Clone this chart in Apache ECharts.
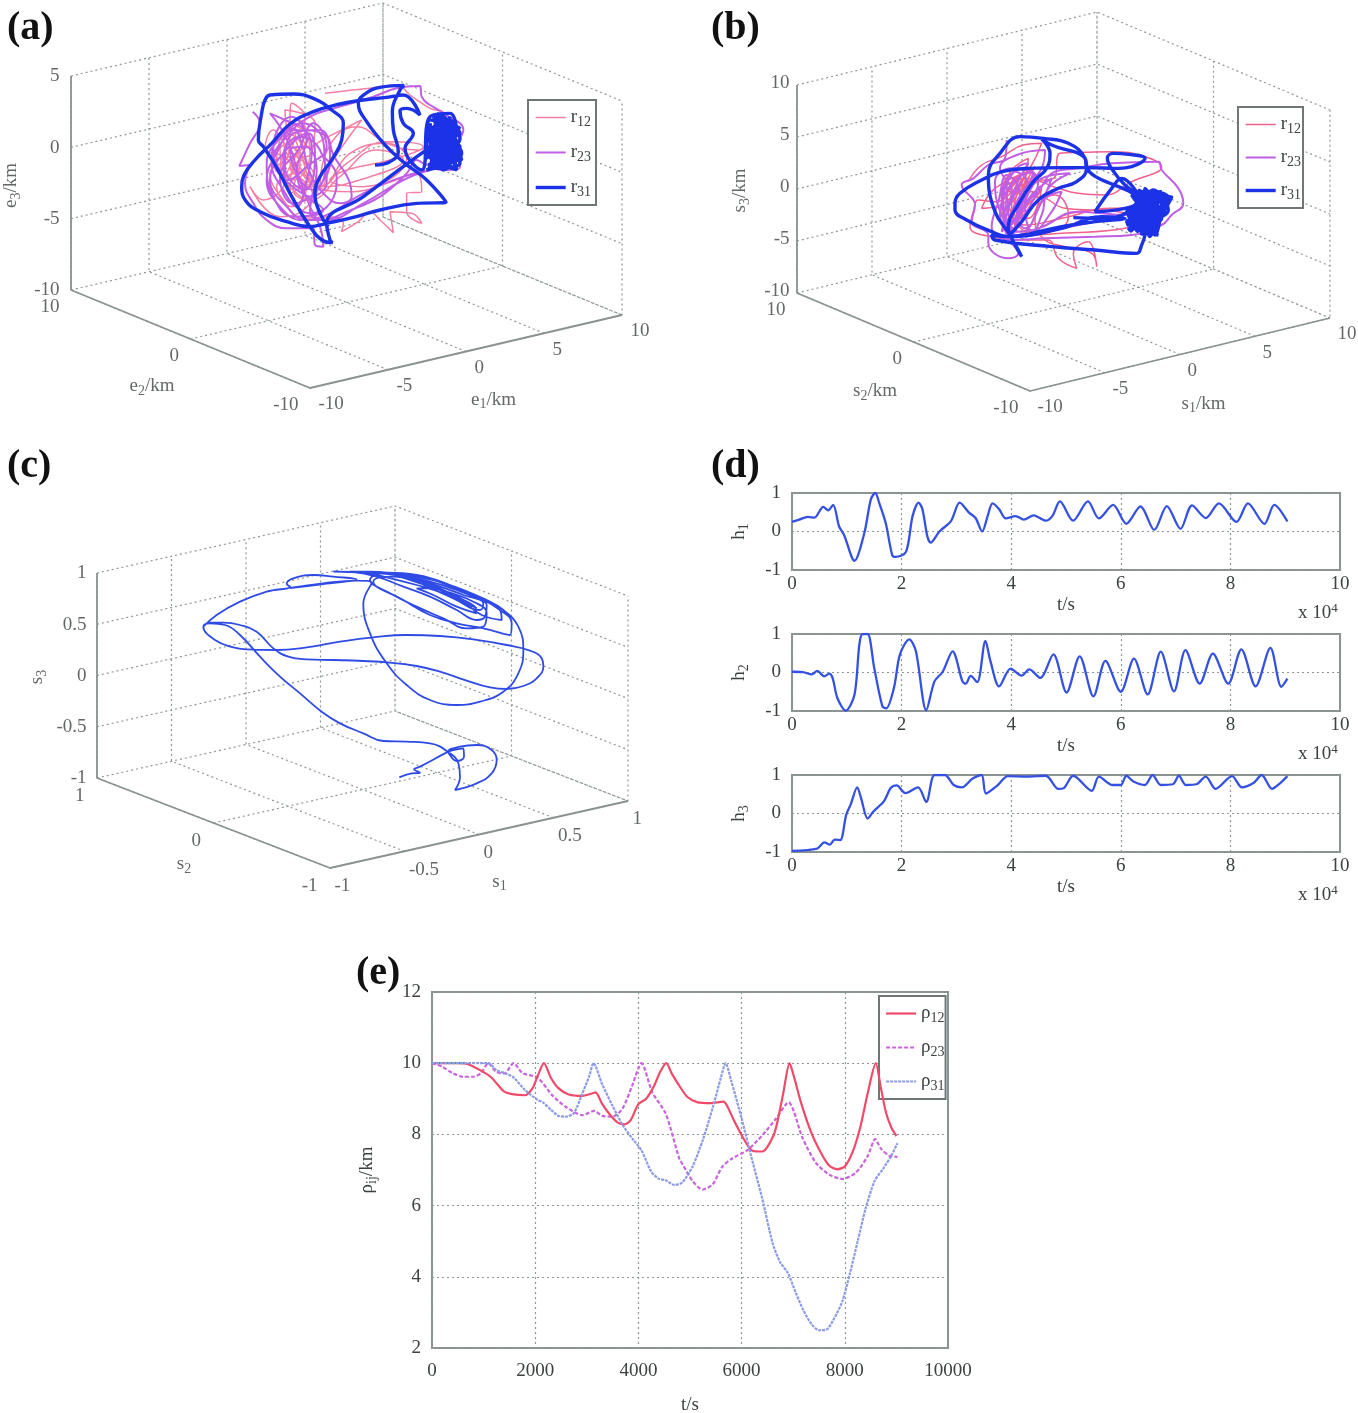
<!DOCTYPE html>
<html>
<head>
<meta charset="utf-8">
<style>html,body{margin:0;padding:0;background:#fff}#c{width:1358px;height:1413px;filter:blur(0.55px)}</style>
<script src="https://cdn.jsdelivr.net/npm/echarts@6/dist/echarts.min.js"></script>
</head>
<body>
<div id="c"></div>
<script>
// ---------- values ----------
// (d) attitude components: [t (x10^4 s), value]
var h1Values=[[0,.25],[.13,.31],[.29,.38],[.41,.36],[.57,.64],[.66,.55],[.75,.69],[.86,.13],[.95,-.09],[1.14,-.76],[1.32,-.04],[1.44,.84],[1.52,1],[1.59,.75],[1.71,.22],[1.83,-.62],[1.89,-.66],[2.08,-.53],[2.2,.4],[2.31,.75],[2.38,.58],[2.47,-.13],[2.53,-.29],[2.69,0],[2.9,.27],[3.06,.75],[3.23,.49],[3.35,.35],[3.47,0],[3.57,.4],[3.66,.73],[3.78,.58],[3.9,.34],[4.08,.4],[4.23,.31],[4.41,.42],[4.63,.28],[4.75,.4],[4.89,.78],[5.13,.28],[5.4,.78],[5.6,.34],[5.86,.69],[6.1,.2],[6.36,.65],[6.61,.04],[6.84,.66],[7.09,.07],[7.3,.68],[7.55,.35],[7.79,.73],[8.11,.25],[8.32,.73],[8.62,.2],[8.8,.69],[9.04,.26]];
var h2Values=[[0,.02],[.2,.01],[.36,-.05],[.46,.04],[.59,-.1],[.68,-.03],[.74,-.14],[.83,-.67],[.98,-.99],[1.14,-.58],[1.23,.74],[1.29,1],[1.38,1],[1.5,.12],[1.65,-.88],[1.72,-.93],[1.86,-.4],[1.97,.47],[2.14,.86],[2.26,.56],[2.45,-.98],[2.6,-.23],[2.75,.02],[2.93,.55],[3.11,-.23],[3.17,-.29],[3.26,-.09],[3.38,-.25],[3.53,.82],[3.62,.3],[3.78,-.36],[3.99,.1],[4.19,-.08],[4.33,.08],[4.53,-.14],[4.77,.47],[5.01,-.52],[5.25,.42],[5.5,-.62],[5.72,.3],[6,-.5],[6.24,.36],[6.49,-.57],[6.73,.54],[6.97,-.49],[7.18,.58],[7.44,-.29],[7.68,.49],[7.96,-.29],[8.2,.6],[8.46,-.36],[8.73,.64],[8.93,-.37],[9.04,-.16]];
var h3Values=[[0,-.97],[.46,-.91],[.59,-.75],[.69,-.81],[.78,-.68],[.88,-.69],[.99,-.03],[1.07,.23],[1.19,.68],[1.26,.4],[1.38,-.13],[1.49,.06],[1.68,.32],[1.8,.66],[1.91,.73],[2.07,.53],[2.3,.68],[2.45,.3],[2.6,1],[2.79,1],[2.95,.74],[3.1,.68],[3.29,.9],[3.46,1],[3.54,.52],[3.75,.73],[3.94,.97],[4.28,.96],[4.63,.98],[4.86,.64],[4.96,.66],[5.13,.98],[5.47,.59],[5.6,.96],[5.85,.74],[6,.74],[6.1,.98],[6.23,.83],[6.44,.74],[6.58,1],[6.73,.74],[6.95,.76],[7.06,.98],[7.19,.74],[7.38,.76],[7.55,.96],[7.73,.64],[8.03,.97],[8.21,.68],[8.42,.79],[8.57,1],[8.76,.64],[8.91,.79],[9.04,.97]];
// (e) distances: [t (s), km]
var rho12=[[0,10],[500,10],[700,9.97],[1000,9.75],[1150,9.6],[1300,9.35],[1400,9.2],[1550,9.13],[1800,9.1],[1950,9.3],[2050,9.65],[2170,10],[2300,9.6],[2450,9.3],[2650,9.12],[2900,9.08],[3100,9.15],[3170,9.18],[3300,8.85],[3450,8.55],[3600,8.33],[3730,8.28],[3850,8.4],[4000,8.85],[4150,9],[4300,9.35],[4420,9.75],[4540,10],[4650,9.7],[4800,9.35],[4950,9.05],[5150,8.9],[5400,8.88],[5650,8.92],[5720,8.8],[5850,8.4],[6050,7.85],[6200,7.55],[6400,7.52],[6500,7.65],[6650,8.1],[6800,9.1],[6930,10],[7000,9.7],[7150,8.9],[7350,8.05],[7550,7.45],[7700,7.12],[7850,7.02],[8000,7.1],[8150,7.5],[8300,8.2],[8450,9.2],[8600,10],[8700,9.3],[8800,8.6],[8900,8.2],[9000,7.95]];
var rho23=[[0,10],[200,9.9],[400,9.72],[600,9.62],[800,9.62],[950,9.72],[1090,10],[1240,9.76],[1400,9.71],[1580,10],[1755,9.72],[2045,9.6],[2335,9.09],[2595,8.77],[2915,8.54],[3140,8.66],[3300,8.52],[3500,8.5],[3690,8.72],[3880,9.37],[4060,10],[4270,9.18],[4530,8.58],[4790,7.33],[4860,7.15],[5050,6.69],[5245,6.45],[5440,6.6],[5630,7.1],[5825,7.33],[6115,7.56],[6405,7.98],[6665,8.44],[6910,8.9],[7180,7.9],[7440,7.2],[7700,6.87],[7955,6.75],[8210,6.92],[8440,7.38],[8590,7.87],[8700,7.6],[8860,7.4],[9020,7.37]];
var rho31=[[0,10],[1090,10],[1250,9.8],[1400,9.73],[1580,9.6],[1800,9.25],[2045,8.97],[2150,8.9],[2300,8.7],[2450,8.52],[2600,8.5],[2750,8.6],[2900,9.1],[3050,9.65],[3130,10],[3300,9.4],[3500,8.8],[3700,8.25],[3900,7.85],[4060,7.55],[4250,6.95],[4400,6.75],[4520,6.72],[4700,6.58],[4850,6.65],[5050,7.1],[5250,7.85],[5450,8.8],[5600,9.6],[5690,10],[5800,9.5],[6000,8.45],[6200,7.3],[6400,6.2],[6600,4.95],[6750,4.4],[6900,4.1],[7050,3.55],[7200,3.05],[7350,2.68],[7500,2.5],[7650,2.52],[7800,2.85],[7950,3.3],[8100,4.1],[8250,5],[8400,5.9],[8580,6.7],[8750,7.05],[8900,7.4],[9020,7.75]];
// (a) projected trajectories in view units of the plot plane
var aR12=[[285,40],[350,32],[420,25],[500,15],[540,45],[600,85],[640,100],[630,150],[560,210],[470,190],[380,140],[300,195],[270,320],[370,335],[470,310],[560,280],[575,335],[530,340],[530,395],[575,430],[545,400],[480,395],[490,458],[450,420],[420,395],[385,425],[335,455],[340,430],[300,410],[220,415],[160,360],[120,280],[175,225],[185,70],[225,110],[200,175],[150,210],[175,290],[210,240],[270,320],[310,240],[395,120],[285,175],[235,200],[205,150],[180,205],[130,150],[105,205],[170,235],[215,310],[265,320],[205,400],[150,410],[60,320],[100,360],[165,300],[130,250],[180,230],[230,230],[255,130],[165,90],[180,180],[240,290],[180,340],[195,250],[270,320],[350,250],[470,185],[580,200],[480,240],[350,270],[300,300],[400,320],[530,235],[470,190],[360,220],[270,320],[200,260],[160,180],[205,120],[240,220],[190,300],[140,240],[170,160],[215,200],[180,260],[230,320],[185,380],[140,320],[205,280],[265,320],[240,260],[180,200],[150,270],[200,340],[255,370],[215,230],[175,130],[235,170],[190,240],[160,310],[270,320],[420,290],[520,240],[440,210],[330,290],[240,360],[190,330],[210,250],[175,210]];
var aR23=[[68,95],[90,130],[60,190],[28,258],[60,255],[45,310],[70,370],[110,420],[170,445],[250,445],[255,495],[280,500],[270,440],[240,380],[210,300],[180,200],[150,140],[120,100],[165,120],[225,150],[245,210],[230,300],[200,380],[160,330],[125,250],[145,170],[200,150],[285,165],[310,225],[360,310],[365,350],[330,370],[285,345],[240,280],[215,190],[190,145],[140,220],[110,300],[150,380],[215,420],[275,420],[350,395],[450,350],[530,280],[560,240],[580,250],[640,270],[690,260],[680,200],[700,150],[640,100],[575,50],[570,18],[500,25],[430,50],[330,80],[240,110],[170,170],[130,240],[165,300],[230,350],[280,390],[190,410],[130,350],[110,250],[150,175],[215,130],[280,185],[285,270],[250,330],[205,290],[180,210],[225,200],[260,270],[240,395],[290,420],[400,370],[520,300],[600,270],[520,290],[400,340],[300,400],[230,420],[170,380],[120,300],[160,220],[235,160],[255,230],[225,330],[165,260],[190,160],[270,150],[300,230],[260,330],[190,370],[150,290],[205,210],[250,130],[290,200],[230,260],[175,300],[130,200],[185,110],[230,180],[200,270],[240,350],[290,310],[270,210],[210,170],[160,230],[180,340],[240,400],[300,370],[320,290],[280,230]];
var aR31=[[435,255],[480,245],[505,215],[490,150],[487,95],[510,30],[522,16],[450,22],[405,42],[385,70],[410,125],[470,200],[525,250],[590,300],[648,367],[560,370],[450,390],[370,412],[290,430],[240,440],[170,425],[90,395],[47,362],[35,320],[42,285],[75,240],[125,190],[180,132],[250,95],[330,72],[400,60],[470,52],[520,45],[570,105],[530,85],[510,92],[520,130],[550,160],[525,205],[575,270],[600,110],[660,100],[680,150],[640,120],[600,170],[690,200],[620,230],[600,130],[650,240],[695,240],[640,110],[610,210],[680,270],[630,160],[585,240],[670,120],[640,270],[600,180],[690,160],[620,100],[650,200],[590,270],[695,220],[610,140],[675,255],[625,125],[660,230],[600,225],[680,130],[640,190],[615,265],[690,250],[600,150],[655,150],[630,250],[670,180],[610,190],[650,115],[640,230],[680,210],[620,175],[665,265],[590,205],[600,120],[690,175],[595,255],[685,235],[615,115],[640,255],[660,110],[605,245],[675,165],[590,170],[660,255],[625,145],[690,225],[600,200],[665,125],[620,240],[680,190],[610,105],[650,270],[595,230],[670,240],[630,200],[660,170],[615,225],[680,270],[640,150],[600,265],[690,140],[540,245],[400,350],[290,430],[300,480],[308,488],[280,482],[240,440],[180,340],[140,262],[100,200],[85,180],[95,100],[105,60],[120,45],[190,42],[250,55],[305,90],[340,130],[335,180],[305,240],[270,290],[255,340],[270,400],[295,440]];
// (b) projected trajectories
var bR12=[[70,170],[110,120],[170,95],[235,60],[290,55],[260,120],[210,190],[150,230],[100,225],[85,260],[75,305],[140,335],[260,345],[310,345],[340,400],[395,430],[385,385],[430,350],[455,425],[440,385],[360,365],[300,345],[270,290],[280,240],[330,210],[370,270],[360,300],[310,315],[250,320],[200,240],[250,170],[325,160],[345,85],[420,82],[500,80],[600,95],[650,125],[560,170],[480,210],[400,205],[340,190],[240,160],[170,190],[205,130],[250,100],[225,220],[175,300],[215,240],[260,135],[150,190],[110,250],[175,235],[270,150],[215,300],[285,215],[360,250],[520,260],[650,300],[560,250],[400,260],[280,310],[200,335],[350,325],[540,310],[640,260],[500,250],[350,280],[240,300],[190,270],[220,180],[270,125],[230,190],[180,260],[200,170],[245,145],[205,260],[250,280],[290,190],[240,240],[185,220],[215,320],[170,250],[230,150],[190,200],[265,200],[220,290]];
var bR23=[[185,45],[180,100],[130,120],[85,160],[50,180],[90,240],[80,290],[130,330],[130,355],[190,400],[220,385],[190,340],[175,280],[200,200],[165,130],[215,90],[300,75],[290,130],[240,190],[200,260],[185,320],[250,330],[290,270],[310,190],[375,145],[290,160],[230,240],[205,310],[170,220],[215,130],[250,115],[210,190],[180,290],[225,280],[280,200],[330,140],[400,130],[500,115],[640,110],[650,135],[700,190],[715,235],[680,270],[650,300],[560,330],[450,335],[300,340],[200,345],[140,305],[160,230],[185,150],[225,210],[185,300],[230,320],[300,220],[350,200],[320,260],[265,320],[240,240],[270,160],[200,130],[150,170],[170,270],[220,330],[400,300],[540,270],[630,240],[540,270],[400,260],[280,310],[210,320],[165,270],[205,170],[265,140],[235,230],[195,300],[175,230],[210,140],[250,180],[215,270],[240,310],[290,230],[320,160],[260,210],[205,290],[185,190],[235,130],[280,170],[225,260],[170,320],[190,250],[230,170]];
var bR31=[[385,278],[470,280],[550,260],[610,200],[665,215],[625,270],[560,210],[680,215],[600,300],[545,290],[660,250],[580,195],[630,330],[650,230],[545,260],[640,290],[590,240],[670,230],[555,320],[620,210],[635,320],[565,240],[655,270],[600,190],[590,330],[670,210],[550,280],[625,240],[600,280],[645,210],[575,300],[615,310],[640,250],[565,270],[600,220],[650,200],[575,215],[630,300],[600,205],[670,225],[560,300],[640,330],[550,270],[665,240],[585,200],[615,335],[640,215],[560,250],[650,280],[600,310],[575,320],[625,195],[670,255],[545,300],[610,250],[590,270],[640,310],[580,225],[655,225],[620,285],[565,305],[600,235],[630,260],[575,255],[660,260],[605,295],[550,315],[615,225],[600,330],[590,360],[575,385],[450,375],[320,365],[150,345],[140,330],[190,335],[260,325],[350,305],[450,290],[540,280],[470,275],[350,310],[190,335],[140,320],[65,285],[30,255],[30,235],[45,205],[110,165],[170,140],[250,130],[350,128],[430,128],[520,130],[560,125],[600,100],[550,88],[505,85],[487,100],[510,145],[540,180],[580,210],[530,160],[500,190],[450,260],[540,250],[580,230],[425,130],[420,100],[370,55],[295,40],[225,35],[165,85],[130,150],[150,260],[195,330],[210,360],[230,395],[220,375],[200,340],[190,310],[225,230],[265,170],[305,130],[315,85],[290,42],[320,60],[420,100],[425,130],[395,170],[340,190],[280,225],[230,290],[190,335]];
// (c) projected unit-vector trajectory
var cPath=[[628,652],[665,640],[690,638],[672,628],[690,620],[775,575],[790,570],[820,565],[822,590],[800,603],[783,590],[775,575],[810,560],[860,555],[905,570],[920,600],[905,640],[860,670],[795,690],[810,650],[805,610],[780,580],[720,550],[650,545],[580,543],[520,520],[450,490],[395,455],[330,400],[270,350],[210,290],[150,225],[105,195],[60,190],[40,200],[75,240],[130,262],[170,268],[260,270],[350,262],[450,245],[550,232],[650,225],[750,228],[850,238],[950,255],[1020,272],[1055,295],[1060,320],[1040,355],[1000,378],[950,387],[900,382],[830,362],[750,335],[680,318],[600,308],[520,303],[430,300],[350,298],[295,290],[250,265],[200,215],[150,195],[100,188],[60,188],[40,200],[80,165],[150,125],[230,95],[300,80],[290,72],[310,55],[370,45],[430,50],[500,58],[400,72],[300,84],[400,70],[500,62],[545,68],[520,130],[540,220],[590,310],[650,375],[720,420],[800,435],[870,425],[940,395],[985,340],[1000,270],[985,200],[940,150],[890,120],[780,75],[680,50],[560,38],[430,35],[520,38],[620,45],[720,65],[800,90],[860,115],[890,135],[885,170],[860,180],[800,150],[720,110],[640,80],[560,50],[480,35],[540,35],[640,50],[740,85],[820,125],[875,165],[935,180],[930,150],[880,120],[780,75],[680,45],[590,38],[540,60],[600,100],[680,140],[760,175],[830,205],[880,200],[890,160],[850,125],[770,95],[690,70],[610,50],[550,65],[640,120],[720,165],[800,190],[880,205],[960,225],[965,190],[930,150],[860,110],[760,70],[650,42],[540,40],[680,75],[760,100],[840,140],[860,160],[800,140],[730,105],[680,85],[720,85],[800,115],[860,145],[840,130],[760,90],[690,60],[610,42],[720,70],[820,105],[880,130],[870,150],[790,115],[700,75]];
// tick labels
var ticksE1=[-10,-5,0,5,10], ticksE2=[-10,0,10], ticksE3=[-10,-5,0,5];
var ticksS1=[-10,-5,0,5,10], ticksS2=[-10,0,10], ticksS3=[-10,-5,0,5,10];
var ticksU1=[-1,-.5,0,.5,1], ticksU2=[-1,0,1], ticksU3=[-1,-.5,0,.5,1];

// ---------- layout ----------
var SERIF='"Liberation Serif","Times New Roman",serif', TXT='#3c4141', AXC='#8b9392', GRIDC='#8d9895';
var rich={m:{fontFamily:SERIF,fontSize:19,color:TXT,lineHeight:22,verticalAlign:'middle'},
          b:{fontFamily:SERIF,fontSize:14,color:TXT,padding:[9,0,0,0],verticalAlign:'bottom'},
          t:{fontFamily:SERIF,fontSize:13,color:TXT,padding:[0,0,9,0],verticalAlign:'top'}};
function sub(a,b,c){return '{m|'+a+'}{b|'+b+'}'+(c?'{m|'+c+'}':'');}
var plain=function(v){return String(v);};

var panels=[
 {rect:[0,0,680,430],crop:[230,80],L:[71,290],F:[310,388],R:[622,315],H:214,ax:ticksE1,bx:ticksE2,cx:ticksE3,
  aoff:[9,17],boff:[-11,18],coff:[-11,1],names:[sub('e','1','/km'),sub('e','2','/km'),sub('e','3','/km')],noff:[[28,49],[-38,48],[-59,3]]},
 {rect:[690,0,668,430],crop:[945,125],L:[797,293],F:[1030,391],R:[1330,318],H:208,ax:ticksS1,bx:ticksS2,cx:ticksS3,
  aoff:[8,17],boff:[-11,18],coff:[-7,-1],names:[sub('s','1','/km'),sub('s','2','/km'),sub('s','3','/km')],noff:[[24,50],[-38,50],[-56,2]]},
 {rect:[0,440,680,470],crop:[190,560],L:[97,778],F:[330,868],R:[628,801],H:205,ax:ticksU1,bx:ticksU2,cx:ticksU3,
  aoff:[5,19],boff:[-12,19],coff:[-10,1],names:[sub('s','1'),sub('s','2'),sub('s','3')],noff:[[21,48],[-29,42],[-59,2]]}
];
function toView(p,px,py){return [(px-p.crop[0])*3,(py-p.crop[1])*3];}
function project(p,a,b,c){
  var A=p.ax,B=p.bx,C=p.cx;
  var u=(a-A[0])/(A[A.length-1]-A[0]),v=(b-B[0])/(B[B.length-1]-B[0]),w=(c-C[0])/(C[C.length-1]-C[0]);
  return toView(p,p.F[0]+u*(p.R[0]-p.F[0])+v*(p.L[0]-p.F[0]),p.F[1]+u*(p.R[1]-p.F[1])+v*(p.L[1]-p.F[1])-w*p.H);
}

var grids=[],xAxes=[],yAxes=[],series=[],legends=[];
var GAP=[NaN,NaN];
panels.forEach(function(p,i){
  grids.push({left:p.rect[0],top:p.rect[1],width:p.rect[2],height:p.rect[3],show:false,outerBoundsMode:'none'});
  var v0=toView(p,p.rect[0],p.rect[1]),v1=toView(p,p.rect[0]+p.rect[2],p.rect[1]+p.rect[3]);
  xAxes.push({type:'value',gridIndex:i,min:v0[0],max:v1[0],show:false,scale:true});
  yAxes.push({type:'value',gridIndex:i,min:v0[1],max:v1[1],inverse:true,show:false,scale:true});
  var A=p.ax,B=p.bx,C=p.cx,a0=A[0],a1=A[A.length-1],b0=B[0],b1=B[B.length-1],c0=C[0],c1=C[C.length-1];
  var wire=[];
  function seg(){for(var k=0;k<arguments.length;k++)wire.push(arguments[k]);wire.push(GAP);}
  A.forEach(function(a){seg(project(p,a,b0,c0),project(p,a,b1,c0),project(p,a,b1,c1));});
  B.forEach(function(b){seg(project(p,a0,b,c0),project(p,a1,b,c0),project(p,a1,b,c1));});
  C.forEach(function(c){seg(project(p,a0,b1,c),project(p,a1,b1,c),project(p,a1,b0,c));});
  series.push({type:'line',name:'grid'+i,xAxisIndex:i,yAxisIndex:i,data:wire,symbol:'none',silent:true,z:1,
    lineStyle:{color:GRIDC,width:1.2,type:[2,3]}});
  var solid=[project(p,a0,b1,c1),project(p,a0,b1,c0),project(p,a0,b0,c0),project(p,a1,b0,c0)];
  series.push({type:'line',name:'axes'+i,xAxisIndex:i,yAxisIndex:i,data:solid,symbol:'none',silent:true,z:1,
    lineStyle:{color:AXC,width:1.8}});
  var lab=[];
  function add(pt,text,off,align,extra){lab.push({value:pt,name:text,label:Object.assign({show:true,position:off,align:align,verticalAlign:'middle',formatter:text},extra||{})});}
  A.forEach(function(a){add(project(p,a,b0,c0),String(a),p.aoff,'left');});
  B.forEach(function(b){add(project(p,a0,b,c0),String(b),p.boff,'right');});
  C.forEach(function(c){add(project(p,a0,b1,c),String(c),p.coff,'right');});
  add(project(p,(a0+a1)/2,b0,c0),p.names[0],p.noff[0],'center');
  add(project(p,a0,(b0+b1)/2,c0),p.names[1],p.noff[1],'center');
  add(project(p,a0,b1,(c0+c1)/2),p.names[2],p.noff[2],'center',{rotate:90});
  series.push({type:'scatter',name:'labels'+i,xAxisIndex:i,yAxisIndex:i,data:lab,symbolSize:1,silent:true,z:3,
    itemStyle:{color:'rgba(0,0,0,0)'},label:{show:true,fontFamily:SERIF,fontSize:19,color:TXT,rich:rich},labelLayout:{hideOverlap:false}});
});

function traj(name,gi,data,color,width,z,extra){
  series.push(Object.assign({type:'line',name:name,xAxisIndex:gi,yAxisIndex:gi,data:data,symbol:'none',smooth:0.45,silent:true,z:z,
    lineStyle:{color:color,width:width},itemStyle:{color:color}},extra||{}));
}
traj('a r12',0,aR12,'#f47fa2',1.5,5);
traj('a r23',0,aR23,'#c05fe6',2,6);
traj('a r31',0,aR31,'#1c32e6',3.4,7);
traj('b r12',1,bR12,'#f2608c',1.5,5);
traj('b r23',1,bR23,'#c05fe6',2,6);
traj('b r31',1,bR31,'#1c32e6',3.4,7);
traj('c s',2,cPath,'#2f4be6',1.8,5);

// (d)
var dTops=[493,634,775], hData=[h1Values,h2Values,h3Values];
dTops.forEach(function(top,i){
  var gi=3+i;
  grids.push({left:792,top:top,width:548,height:77,show:true,borderColor:AXC,borderWidth:2,backgroundColor:'transparent',outerBoundsMode:'none'});
  xAxes.push({type:'value',gridIndex:gi,min:0,max:10,interval:2,name:'t/s',nameLocation:'middle',nameGap:26,
    nameTextStyle:{fontFamily:SERIF,fontSize:19,color:TXT},axisLine:{show:false},axisTick:{show:false},
    axisLabel:{fontFamily:SERIF,fontSize:19,color:TXT,margin:5,showMinLabel:true,showMaxLabel:true,hideOverlap:false,formatter:plain},
    splitLine:{show:true,lineStyle:{color:GRIDC,width:1.2,type:[2,3]}}});
  yAxes.push({type:'value',gridIndex:gi,min:-1,max:1,interval:1,name:sub('h',String(i+1)),nameLocation:'middle',nameGap:41,nameRotate:90,
    nameTextStyle:{rich:rich,fontFamily:SERIF,fontSize:19,color:TXT},axisLine:{show:false},axisTick:{show:false},
    axisLabel:{fontFamily:SERIF,fontSize:19,color:TXT,margin:11,formatter:plain},
    splitLine:{show:true,lineStyle:{color:GRIDC,width:1.2,type:[2,3]}}});
  series.push({type:'line',name:'h'+(i+1),xAxisIndex:gi,yAxisIndex:gi,data:hData[i],symbol:'none',smooth:0.3,silent:true,z:5,
    lineStyle:{color:'#3551e2',width:2.3}});
});

// (e)
grids.push({left:432,top:992,width:516,height:356,show:true,borderColor:AXC,borderWidth:2,backgroundColor:'transparent',outerBoundsMode:'none'});
xAxes.push({type:'value',gridIndex:6,min:0,max:10000,interval:2000,name:'t/s',nameLocation:'middle',nameGap:48,
  nameTextStyle:{fontFamily:SERIF,fontSize:19,color:TXT},axisLine:{show:false},axisTick:{show:false},
  axisLabel:{fontFamily:SERIF,fontSize:19,color:TXT,margin:14,hideOverlap:false,formatter:plain},
  splitLine:{show:true,lineStyle:{color:GRIDC,width:1.2,type:[2,3]}}});
yAxes.push({type:'value',gridIndex:6,min:2,max:12,interval:2,name:sub('ρ','ij','/km'),nameLocation:'middle',nameGap:53,nameRotate:90,
  nameTextStyle:{rich:rich,fontFamily:SERIF,fontSize:19,color:TXT},axisLine:{show:false},axisTick:{show:false},
  axisLabel:{fontFamily:SERIF,fontSize:19,color:TXT,margin:11,formatter:plain},
  splitLine:{show:true,lineStyle:{color:GRIDC,width:1.2,type:[2,3]}}});
traj('e p12',6,rho12,'#f04a68',2.2,7,{smooth:0.25});
traj('e p23',6,rho23,'#c965dc',2.2,6,{smooth:0.25,lineStyle:{color:'#c965dc',width:2.2,type:[4,2]}});
traj('e p31',6,rho31,'#8d9be6',2.2,8,{smooth:0.25,lineStyle:{color:'#8d9be6',width:2.2,type:[3,1]}});

function legend(names,labels,left,top,gap,padR){
  var map={};names.forEach(function(n,i){map[n]=labels[i];});
  return {show:true,data:names,orient:'vertical',left:left,top:top,itemWidth:30,itemHeight:14,itemGap:gap,padding:[8,padR,6,6],
    selectedMode:false,backgroundColor:'#fff',borderColor:'#6e7676',borderWidth:2,
    itemStyle:{color:'rgba(0,0,0,0)',borderColor:'rgba(0,0,0,0)',borderWidth:0},
    lineStyle:{width:'inherit'},
    formatter:function(n){return map[n];},
    textStyle:{rich:rich,fontFamily:SERIF,fontSize:19,color:TXT}};
}
legends.push(legend(['a r12','a r23','a r31'],[sub('r','12'),sub('r','23'),sub('r','31')],528,100,14,5));
legends.push(legend(['b r12','b r23','b r31'],[sub('r','12'),sub('r','23'),sub('r','31')],1238,107,12,2));
legends.push(legend(['e p12','e p23','e p31'],[sub('ρ','12'),sub('ρ','23'),sub('ρ','31')],879,996,13,1));

var titleDefs=[['(a)',7,9],['(b)',711,9],['(c)',7,447],['(d)',711,447],['(e)',356,954]];
var titles=titleDefs.map(function(t){return {text:t[0],left:t[1],top:t[2],padding:0,textStyle:{fontFamily:SERIF,fontWeight:'bold',fontSize:40,color:'#111'}};});

var tenPow=[[1298,602],[1298,743],[1298,884]].map(function(p){
  return {type:'text',left:p[0],top:p[1],style:{text:'{m|x 10}{t|4}',rich:rich,fontFamily:SERIF,fontSize:19,fill:TXT}};
});

var chart=echarts.init(document.getElementById('c'),null,{renderer:'canvas',width:1358,height:1413});
chart.setOption({animation:false,backgroundColor:'#fff',title:titles,legend:legends,grid:grids,xAxis:xAxes,yAxis:yAxes,series:series,graphic:tenPow});
</script>
</body>
</html>
